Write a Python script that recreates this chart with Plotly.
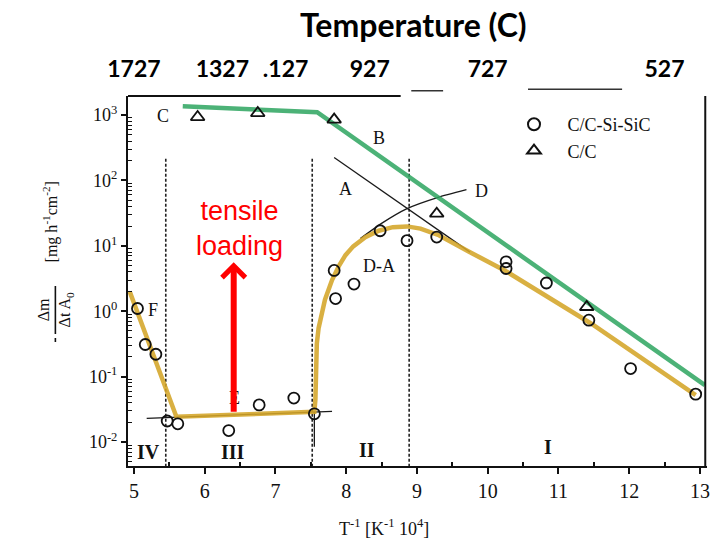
import numpy as np
import plotly.graph_objects as go

# ---------------- data ----------------
sic_x = [5.05, 5.16, 5.31, 5.47, 5.62, 6.34, 6.77, 7.26, 7.55, 7.83, 7.85, 8.11,
         8.48, 8.86, 9.28, 10.26, 10.26, 10.83, 11.43, 12.02, 12.94]
sic_y = [1.1, 0.31, 0.22, 0.021, 0.019, 0.015, 0.037, 0.047, 0.027, 4.2, 1.56, 2.6,
         17, 12, 13.6, 5.7, 4.5, 2.7, 0.73, 0.133, 0.054]
cc_x = [5.90, 6.75, 7.83, 9.28, 11.40]
cc_y = [930, 1070, 850, 31, 1.16]

# fitted curves (overlaid highlight lines)
green_x = [5.69, 7.59, 13.07]
green_y = [1360, 1100, 0.074]
gold_x = [4.94, 5.60, 7.55, 7.565, 7.575, 7.585, 7.61, 7.64, 7.70, 7.80, 7.90, 7.99,
          8.10, 8.27, 8.46, 8.66, 8.86, 9.05, 9.31, 9.75, 10.24, 11.46, 12.94]
gold_y = [2.0, 0.0244, 0.029, 0.045, 0.12, 0.32, 0.55, 0.82, 1.5, 3.0, 5.0, 7.2,
          9.8, 13.5, 17.0, 19.3, 19.8, 18.3, 14.5, 8.0, 4.2, 0.65, 0.052]

# thin construction lines of the original figure
lineA_x = [7.83, 9.75]
lineA_y = [224, 8.0]
lineD_x = [8.20, 8.50, 8.86, 9.30, 9.70]
lineD_y = [12.9, 22, 37, 55, 72]
lineE_x = [5.18, 7.80]
lineE_y = [0.023, 0.0295]
tickII_x = [7.55, 7.55]
tickII_y = [0.029, 0.0085]

# regime boundaries (dashed verticals)
bound_x = [5.45, 7.52, 8.89]
bound_top = 215
bound_bottom = 10 ** -2.37

# curve labels
lab_text = ["C", "B", "A", "D", "D-A", "F", "E"]
lab_x = [5.41, 8.46, 7.99, 9.91, 8.46, 5.27, 6.42]
lab_y = [980, 440, 74, 69, 5.0, 1.03, 0.047]
reg_text = ["IV", "III", "II", "I"]
reg_x = [5.20, 6.40, 8.30, 10.85]
reg_y = [0.0071, 0.0071, 0.0076, 0.0085]

# top temperature axis
temp_vals = [5.0, 6.25, 7.143, 8.333, 10.0, 12.5]
temp_text = ["1727", "1327", ".127", "927", "727", "527"]

# bottom / left ticks
x_ticks = [5, 6, 7, 8, 9, 10, 11, 12, 13]
y_ticks = [1e-2, 1e-1, 1e0, 1e1, 1e2, 1e3]
y_ticktext = ["10<sup>-2</sup>", "10<sup>-1</sup>", "10<sup>0</sup>",
              "10<sup>1</sup>", "10<sup>2</sup>", "10<sup>3</sup>"]

# arrow for tensile loading
arrow_x = 6.41
arrow_tail = 0.0275
arrow_tip = 5.6

XR = [4.916, 13.10]
YR = [-2.366, 3.29]

SERIF = "Liberation Serif"
NB = "\u00a0"

fig = go.Figure()

# dashed regime boundaries
for bx in bound_x:
    fig.add_trace(go.Scatter(x=[bx, bx], y=[bound_top, bound_bottom], mode="lines",
                             line=dict(color="#222", width=1.6, dash="3px,2px"),
                             showlegend=False, hoverinfo="skip"))

# thin black construction lines
for lx, ly in [(lineA_x, lineA_y), (lineD_x, lineD_y), (lineE_x, lineE_y), (tickII_x, tickII_y)]:
    fig.add_trace(go.Scatter(x=lx, y=ly, mode="lines",
                             line=dict(color="#1a1a1a", width=1.3, shape="spline", smoothing=0.5),
                             showlegend=False, hoverinfo="skip"))

# highlighted fits
fig.add_trace(go.Scatter(x=gold_x, y=gold_y, mode="lines",
                         line=dict(color="rgba(212,165,40,0.88)", width=4.5),
                         showlegend=False, hoverinfo="skip"))
fig.add_trace(go.Scatter(x=green_x, y=green_y, mode="lines",
                         line=dict(color="rgba(45,165,95,0.85)", width=4.5),
                         showlegend=False, hoverinfo="skip"))

# data points
fig.add_trace(go.Scatter(x=sic_x, y=sic_y, mode="markers", name=NB * 3 + "C/C-Si-SiC",
                         marker=dict(symbol="circle-open", size=11, color="#111",
                                     line=dict(width=1.8, color="#111"))))
fig.add_trace(go.Scatter(x=cc_x, y=cc_y, mode="markers", name=NB * 3 + "C/C",
                         marker=dict(symbol="triangle-up-open", size=12, color="#111",
                                     line=dict(width=1.8, color="#111"))))

# invisible trace for the top axis
fig.add_trace(go.Scatter(x=temp_vals, y=[1] * len(temp_vals), xaxis="x2", mode="markers",
                         marker=dict(opacity=0), showlegend=False, hoverinfo="skip"))

ann = []
for t, x, y in zip(lab_text, lab_x, lab_y):
    ann.append(dict(x=x, y=np.log10(y), xref="x", yref="y", text=t, showarrow=False,
                    xanchor="center", yanchor="middle",
                    font=dict(family=SERIF, size=18, color="#111")))
for t, x, y in zip(reg_text, reg_x, reg_y):
    ann.append(dict(x=x, y=np.log10(y), xref="x", yref="y", text="<b>" + t + "</b>",
                    showarrow=False, xanchor="center", yanchor="middle",
                    font=dict(family=SERIF, size=20, color="#111")))

# red arrow + text
ann.append(dict(x=arrow_x, y=np.log10(arrow_tip), ax=arrow_x, ay=np.log10(arrow_tail),
                xref="x", yref="y", axref="x", ayref="y", text="", showarrow=True,
                arrowhead=4, arrowsize=0.75, arrowwidth=6, arrowcolor="#ff0000"))
ann.append(dict(x=6.49, y=1.27, xref="x", yref="y", text="tensile<br>loading",
                showarrow=False, xanchor="center", yanchor="middle",
                font=dict(family="Liberation Sans", size=27, color="#ff0000")))


def px(p):
    return (p - 128) / 582.0


def py(p):
    return (466 - p) / 370.0


ann.append(dict(x=px(415), y=py(24), xref="paper", yref="paper",
                xanchor="center", yanchor="middle",
                text="<b>Temperature (C)</b>", showarrow=False,
                font=dict(family="Lato", size=32, color="#000")))
ann.append(dict(x=px(385), y=py(527), xref="paper", yref="paper",
                xanchor="center", yanchor="middle",
                text="T<sup>-1</sup> [K<sup>-1</sup> 10<sup>4</sup>]", showarrow=False,
                font=dict(family=SERIF, size=18, color="#111")))
# y title pieces (rotated)
ann.append(dict(x=px(50), y=py(222), xref="paper", yref="paper", textangle=-90,
                xanchor="center", yanchor="middle",
                text="[mg h<sup>-1</sup>cm<sup>-2</sup>]", showarrow=False,
                font=dict(family=SERIF, size=16, color="#111")))
ann.append(dict(x=px(55), y=py(310), xref="paper", yref="paper", textangle=-90,
                xanchor="center", yanchor="middle",
                text="Δm<br>Δt A<sub>0</sub>", showarrow=False,
                font=dict(family=SERIF, size=16, color="#111")))

shapes = [
    # fraction bar and minus sign of the y title
    dict(type="line", xref="paper", yref="paper", x0=px(55), x1=px(55), y0=py(286), y1=py(334),
         line=dict(color="#111", width=1.6)),
    dict(type="line", xref="paper", yref="paper", x0=px(55), x1=px(55), y0=py(338), y1=py(342),
         line=dict(color="#111", width=1.6)),
    # remaining pieces of the top frame
    dict(type="line", xref="x", yref="paper", x0=XR[0], x1=8.77, y0=1, y1=1,
         line=dict(color="#111", width=2)),
    dict(type="line", xref="x", yref="paper", x0=8.92, x1=9.37, y0=1.014, y1=1.014,
         line=dict(color="#333", width=1.5)),
    dict(type="line", xref="x", yref="paper", x0=10.57, x1=11.90, y0=1.018, y1=1.018,
         line=dict(color="#333", width=1.5)),
    # right frame
    dict(type="line", xref="paper", yref="paper", x0=0.997, x1=0.997, y0=0, y1=1,
         line=dict(color="#111", width=2)),
]

minor_y = [m * 10 ** k for k in range(-3, 4) for m in range(2, 10)]

fig.update_layout(
    width=713, height=545,
    margin=dict(l=128, r=3, t=96, b=79),
    paper_bgcolor="white", plot_bgcolor="white",
    showlegend=True,
    legend=dict(x=px(516), y=py(106), xanchor="left", yanchor="top",
                bgcolor="rgba(0,0,0,0)", font=dict(family=SERIF, size=18, color="#111"),
                itemsizing="constant", tracegroupgap=4),
    xaxis=dict(range=XR, tickvals=x_ticks, ticks="outside", ticklen=6, tickwidth=1.5,
               tickcolor="#111", showline=True, linecolor="#111", linewidth=2,
               showgrid=False, zeroline=False,
               tickfont=dict(family=SERIF, size=20, color="#111"),
               minor=dict(tickvals=[x + 0.5 for x in range(4, 13)], ticks="inside",
                          ticklen=4, tickwidth=1.5, tickcolor="#111")),
    xaxis2=dict(range=XR, overlaying="x", side="top", tickvals=temp_vals,
                ticktext=["<b>" + t + "</b>" for t in temp_text],
                ticks="", showline=False, showgrid=False, zeroline=False,
                ticklabelstandoff=13,
                tickfont=dict(family="Lato", size=23, color="#000")),
    yaxis=dict(type="log", range=YR, tickvals=y_ticks, ticktext=y_ticktext,
               ticks="outside", ticklen=5, tickwidth=2, tickcolor="#111",
               showline=True, linecolor="#111", linewidth=2, showgrid=False,
               zeroline=False, tickfont=dict(family=SERIF, size=18, color="#111"),
               minor=dict(tickvals=minor_y, ticks="inside", ticklen=4, tickwidth=1.3,
                          tickcolor="#111")),
    annotations=ann,
    shapes=shapes,
)

fig.write_html("out.html")
